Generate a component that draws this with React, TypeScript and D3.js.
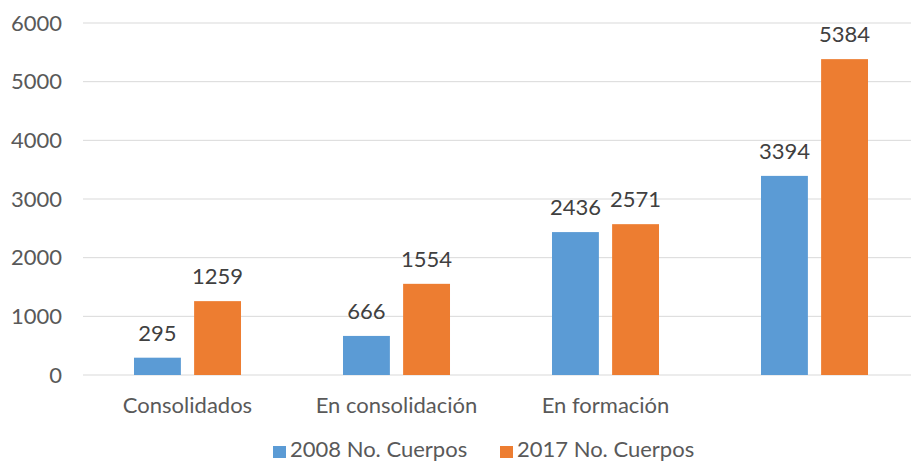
import React from "react";
import * as d3 from "d3";

const categories = ["Consolidados", "En consolidación", "En formación", ""];
const seriesNames = ["2008 No. Cuerpos", "2017 No. Cuerpos"];
const values2008 = [295, 666, 2436, 3394];
const values2017 = [1259, 1554, 2571, 5384];
const yTicks = [0, 1000, 2000, 3000, 4000, 5000, 6000];
const colors = ["#5B9BD5", "#ED7D31"];

const W = 911;
const H = 472;
const FONT = "Lato, 'Open Sans', sans-serif";
const FS = 22;

export default function App() {
  const x = d3.scaleBand<string>().domain(categories.map((c, i) => String(i))).range([83, 919]).paddingInner(0.488).paddingOuter(0.244);
  const xs = d3.scaleBand<string>().domain(seriesNames).range([0, x.bandwidth()]).paddingInner(0.22);
  const y = d3.scaleLinear().domain([0, 6000]).range([375, 23]);
  const data = [values2008, values2017];

  return (
    <svg width={W} height={H} style={{ position: "absolute", left: 0, top: 0, background: "#fff" }} fontFamily={FONT}>
      <rect x={0} y={0} width={W} height={H} fill="#fff" />
      {yTicks.map((t) => (
        <g key={t}>
          <line x1={83} x2={W} y1={y(t)} y2={y(t)} stroke="#D9D9D9" strokeWidth={1} />
          <text x={62} y={y(t)} dy="0.35em" textAnchor="end" fontSize={FS} fill="#595959">{t}</text>
        </g>
      ))}
      {categories.map((c, i) => (
        <g key={i} transform={`translate(${x(String(i))},0)`}>
          {seriesNames.map((s, si) => {
            const v = data[si][i];
            const bx = xs(s)!;
            return (
              <g key={s}>
                <rect x={bx} y={y(v)} width={xs.bandwidth()} height={y(0) - y(v)} fill={colors[si]} />
                <text x={bx + xs.bandwidth() / 2} y={y(v) - 17} textAnchor="middle" fontSize={FS} fill="#404040">{v}</text>
              </g>
            );
          })}
          <text x={x.bandwidth() / 2} y={413} textAnchor="middle" fontSize={FS} fill="#595959">{c}</text>
        </g>
      ))}
      {seriesNames.map((s, si) => {
        const lx = [273, 500][si];
        return (
          <g key={s}>
            <rect x={lx} y={446} width={13} height={12} fill={colors[si]} />
            <text x={lx + 17} y={457} fontSize={FS} fill="#595959">{s}</text>
          </g>
        );
      })}
    </svg>
  );
}
